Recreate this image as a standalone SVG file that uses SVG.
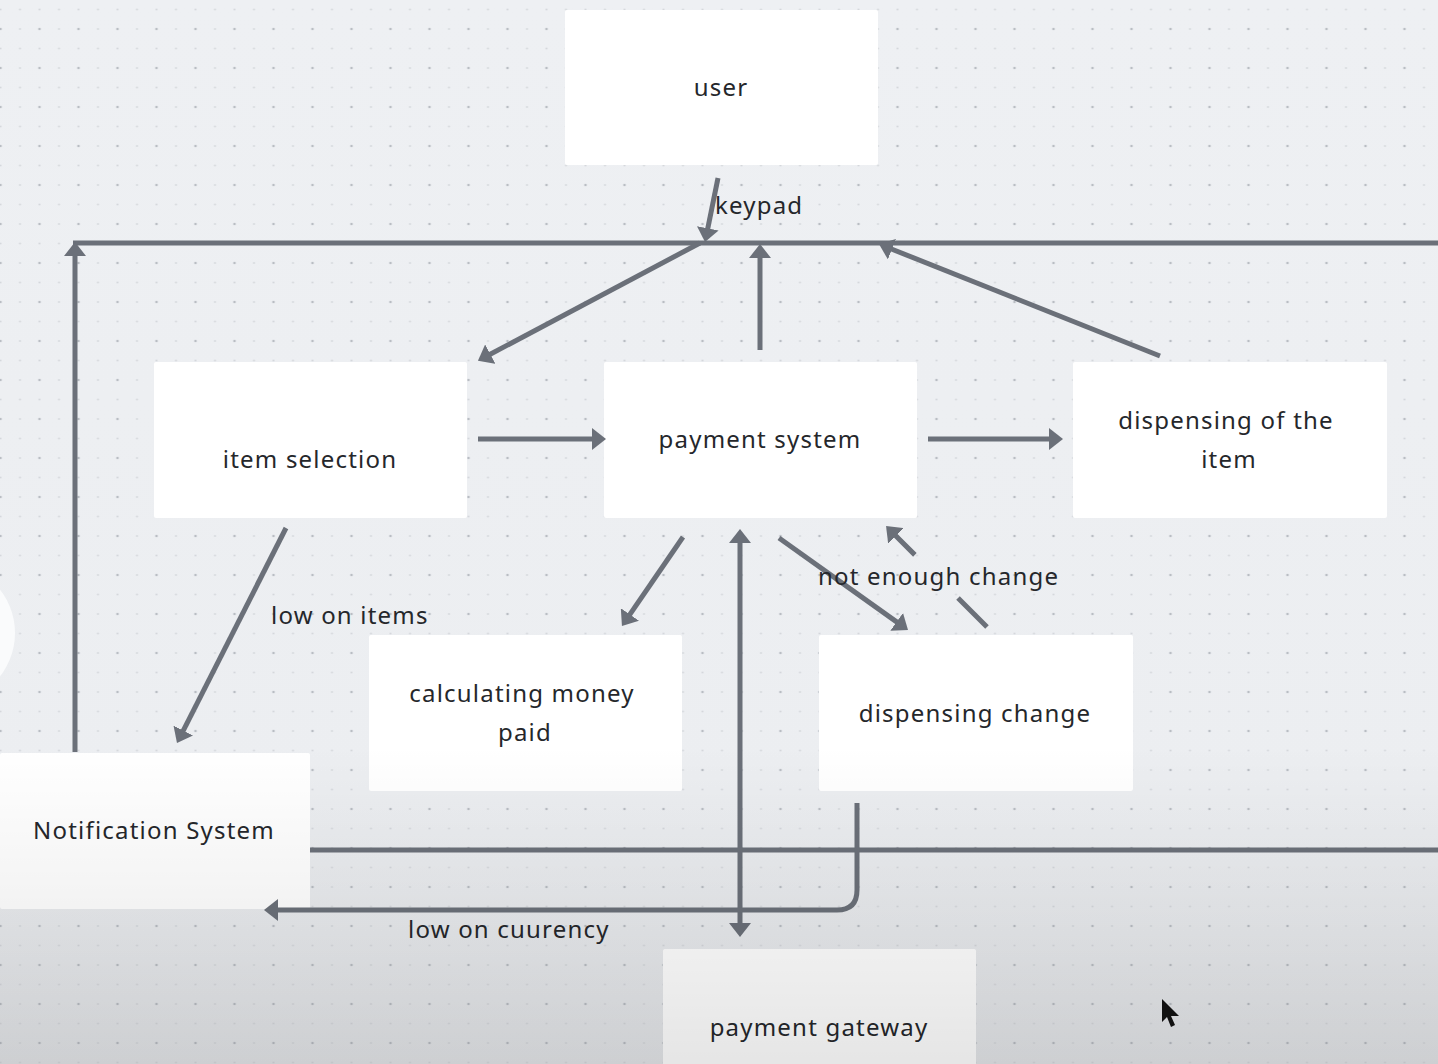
<svg xmlns="http://www.w3.org/2000/svg" width="1438" height="1064" viewBox="0 0 1438 1064">
<defs>
<linearGradient id="bg" x1="0" y1="0" x2="0" y2="1">
<stop offset="0" stop-color="#eef0f3"/>
<stop offset="0.75" stop-color="#eceef1"/>
<stop offset="1" stop-color="#e4e6e9"/>
</linearGradient>
<linearGradient id="shade" x1="0" y1="0" x2="0" y2="1064" gradientUnits="userSpaceOnUse">
<stop offset="0" stop-color="#000" stop-opacity="0"/>
<stop offset="0.7" stop-color="#000" stop-opacity="0"/>
<stop offset="0.86" stop-color="#000" stop-opacity="0.05"/>
<stop offset="1" stop-color="#000" stop-opacity="0.1"/>
</linearGradient>
<pattern id="dots" width="39" height="39" patternUnits="userSpaceOnUse" patternTransform="translate(0.5 29)">
<circle cx="0" cy="0" r="1.3" fill="#b9bdc3"/>
<circle cx="39" cy="0" r="1.3" fill="#b9bdc3"/>
<circle cx="0" cy="39" r="1.3" fill="#b9bdc3"/>
<circle cx="39" cy="39" r="1.3" fill="#b9bdc3"/>
<circle cx="19.5" cy="0" r="1" fill="#d3d6da"/>
<circle cx="0" cy="19.5" r="1" fill="#d3d6da"/>
<circle cx="19.5" cy="19.5" r="1" fill="#d3d6da"/>
<circle cx="19.5" cy="39" r="1" fill="#d3d6da"/>
<circle cx="39" cy="19.5" r="1" fill="#d3d6da"/>
</pattern>
<marker id="ah" viewBox="0 0 14 22" markerWidth="14" markerHeight="22" refX="6" refY="11" orient="auto-start-reverse" markerUnits="userSpaceOnUse">
<path d="M0,0 L14,11 L0,22 z" fill="#6b7079"/>
</marker>
<style>
.box{fill:#ffffff;}
.lbl{font-family:"Noto Sans","DejaVu Sans",sans-serif;font-size:24px;fill:#25272b;letter-spacing:1.2px;}
.mid{text-anchor:middle;}
.ln{fill:none;stroke:#6b7079;stroke-width:5;}
.arr{marker-end:url(#ah);}
</style>
</defs>
<rect width="1438" height="1064" fill="url(#bg)"/>
<rect width="1438" height="1064" fill="url(#dots)"/>
<circle cx="-55" cy="633" r="70" fill="#fafbfc"/>

<g id="node-user">
<rect class="box" x="565" y="10" width="313" height="155" rx="2"/>
<text class="lbl mid" x="721" y="96">user</text>
</g>
<g id="node-item-selection">
<rect class="box" x="154" y="362" width="313" height="156" rx="2"/>
<text class="lbl mid" x="310" y="468">item selection</text>
</g>
<g id="node-payment-system">
<rect class="box" x="604" y="362" width="313" height="156" rx="2"/>
<text class="lbl mid" x="760" y="448">payment system</text>
</g>
<g id="node-dispensing-item">
<rect class="box" x="1073" y="362" width="314" height="156" rx="2"/>
<text class="lbl mid" x="1226" y="429">dispensing of the</text>
<text class="lbl mid" x="1229" y="468">item</text>
</g>
<g id="node-calculating">
<rect class="box" x="369" y="635" width="313" height="156" rx="2"/>
<text class="lbl mid" x="522" y="702">calculating money</text>
<text class="lbl mid" x="525" y="741">paid</text>
</g>
<g id="node-dispensing-change">
<rect class="box" x="819" y="635" width="314" height="156" rx="2"/>
<text class="lbl mid" x="975" y="722">dispensing change</text>
</g>
<g id="node-notification">
<rect class="box" x="0" y="753" width="310" height="156" rx="2"/>
<text class="lbl mid" x="154" y="839">Notification System</text>
</g>
<g id="node-payment-gateway">
<rect class="box" x="663" y="949" width="313" height="130" rx="2"/>
<text class="lbl mid" x="819" y="1036">payment gateway</text>
</g>

<g id="connectors">
<line class="ln" x1="73" y1="243" x2="1438" y2="243"/>
<line class="ln arr" x1="75" y1="752" x2="75" y2="250"/>
<line class="ln arr" x1="718" y1="178" x2="706.6" y2="234.2"/>
<line class="ln arr" x1="700" y1="243" x2="485" y2="357"/>
<line class="ln arr" x1="760" y1="350" x2="760" y2="252"/>
<line class="ln arr" x1="1160" y1="356" x2="886.4" y2="247"/>
<line class="ln arr" x1="478" y1="439" x2="598" y2="439"/>
<line class="ln arr" x1="928" y1="439" x2="1055" y2="439"/>
<line class="ln arr" x1="286" y1="528" x2="180.6" y2="735.9"/>
<line class="ln arr" x1="683" y1="537" x2="626.5" y2="619.4"/>
<line class="ln" x1="310" y1="850" x2="1438" y2="850"/>
<line class="ln arr" x1="740" y1="537" x2="740" y2="929" marker-start="url(#ah)"/>
<line class="ln arr" x1="779" y1="538" x2="901.5" y2="625.4"/>
<line class="ln arr" x1="987" y1="627" x2="891.7" y2="531.7" stroke-dasharray="41 61 80"/>
<path class="ln arr" d="M857,803 L857,890 Q857,910 837,910 L272,910"/>
</g>

<g id="labels">
<text class="lbl" x="715" y="214">keypad</text>
<text class="lbl" x="271" y="624">low on items</text>
<text class="lbl" x="818" y="585">not enough change</text>
<text class="lbl" x="408" y="938">low on cuurency</text>
</g>

<rect width="1438" height="1064" fill="url(#shade)" pointer-events="none"/>
<path d="M1162,999 L1162,1022 L1167,1017 L1171,1027 L1175,1025 L1171,1016 L1179,1016 Z" fill="#111"/>
</svg>
